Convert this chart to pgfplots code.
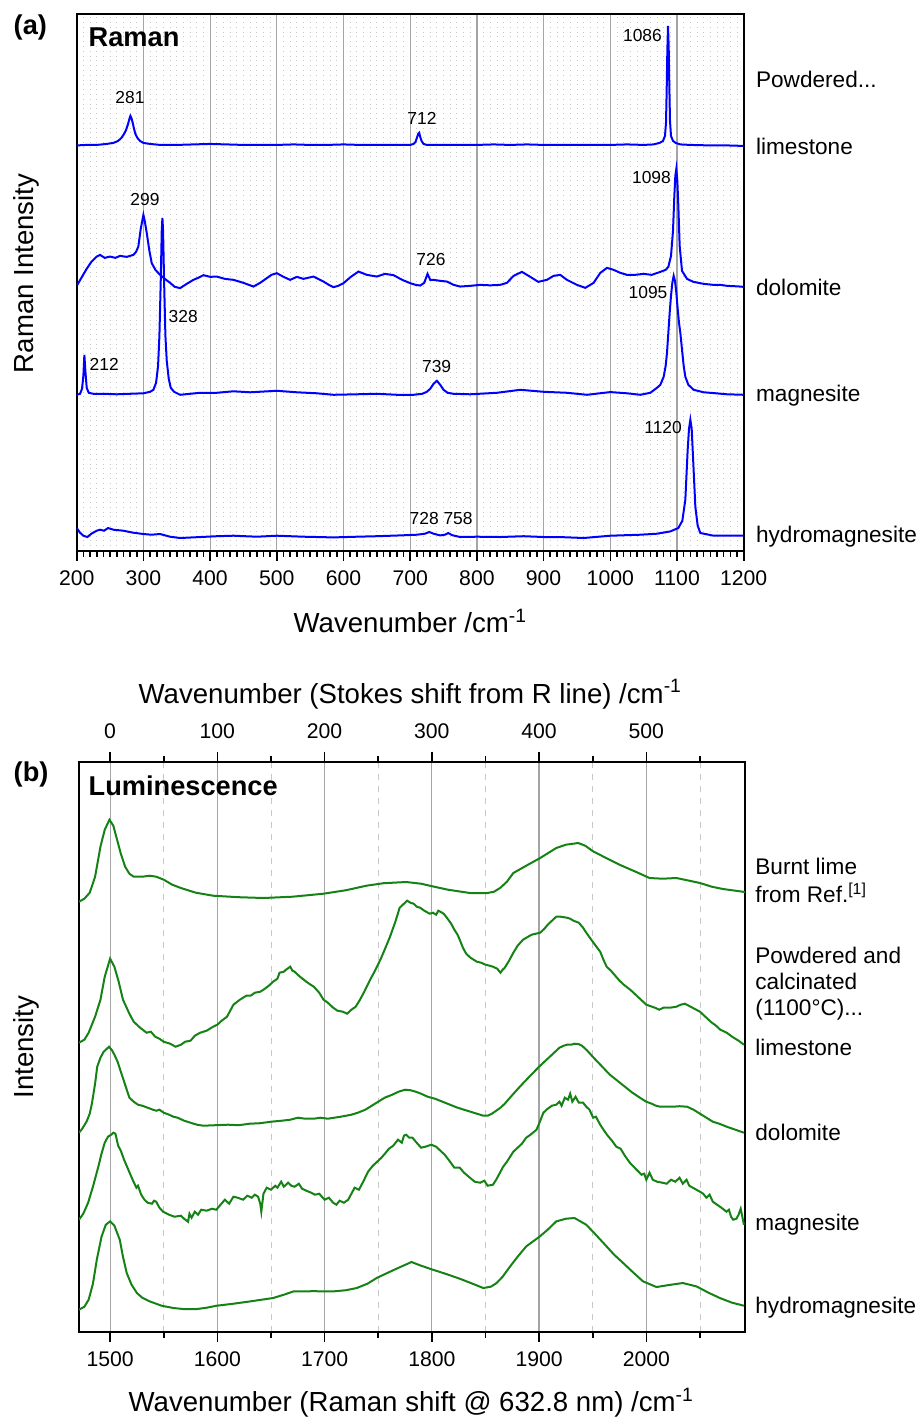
\documentclass[border=0pt]{standalone}
\usepackage{pgfplots}
\pgfplotsset{compat=1.18}
\usepackage{fontspec}
\setmainfont{Liberation Sans}
\definecolor{lgreen}{RGB}{20,130,20}
\definecolor{majgrid}{RGB}{165,165,165}
\definecolor{mingrid}{RGB}{200,200,200}
\newcommand{\tfont}{\fontsize{10.6}{12}\selectfont}
\newcommand{\lfont}{\fontsize{13.8}{16}\selectfont}
\newcommand{\sfont}{\fontsize{11.3}{13}\selectfont}
\newcommand{\pfont}{\fontsize{8.7}{10}\selectfont}
\newcommand{\bfont}{\fontsize{13.6}{16}\selectfont\bfseries}
\begin{document}
\begin{tikzpicture}
\useasboundingbox (0pt,0pt) rectangle (459.5pt,-709pt);
% ---------------- panel (a) ----------------
\begin{axis}[
  at={(38.35pt,-275.35pt)}, anchor=south west,
  scale only axis, width=333.5pt, height=268.35pt,
  xmin=200, xmax=1200, ymin=0, ymax=537,
  xtick={200,300,...,1200}, minor x tick num=9,
  ytick=\empty,
  xtick pos=left, tick align=outside,
  major tick length=5pt, minor tick length=3pt,
  tick style={black, line width=0.8pt},
  xmajorgrids, xminorgrids,
  major grid style={majgrid, line width=0.6pt},
  minor grid style={mingrid, dotted, line width=0.4pt},
  axis line style={line width=1pt},
  tick label style={font=\tfont},
  xticklabel style={yshift=-1.5pt},
  /pgf/number format/assume math mode=true,
  /pgf/number format/1000 sep={},
]
\addplot[blue, line width=1pt] coordinates {
(200,405.5) (215,406) (230,406) (245,407) (255,408) (262,410) (267,413) (271,417) (274,421) (277,427) (279,432) (280.5,435) (282,433) (284,428) (286,422) (288,417) (291,413) (295,410) (300,408) (310,407) (325,406) (350,406) (375,406.5) (400,407) (425,406.5) (450,406) (475,406) (500,406) (525,406.5) (550,406) (575,406) (600,406.5) (625,406) (650,406) (675,406) (700,406) (705,407) (708,409) (710,413) (712,417) (713.5,418) (715,414) (717,410) (720,407) (725,406) (750,406) (775,406) (800,406) (825,406.5) (850,406) (875,406.5) (900,406) (925,406) (950,406) (975,406) (1000,406) (1025,406.5) (1050,406) (1065,406.5) (1074,408) (1079,410) (1082,415) (1083.5,428) (1084.5,460) (1085.5,500) (1086.5,525) (1087.5,505) (1088.5,465) (1089.5,430) (1091,415) (1094,410) (1098,408) (1105,406.5) (1120,406) (1150,405.5) (1175,405.5) (1200,405)
};
\addplot[blue, line width=1pt] coordinates {
(201,266) (207,273) (214,281) (222,289) (230,294.3) (235,296) (242,293) (250,294.3) (258,293) (265,295) (275,294) (285,296) (289,299) (292.4,304.3) (296,322) (300,336) (302,330) (305,318) (309,300) (312.5,287.7) (318,281) (325,276) (332,272) (340,268) (347,264) (355,262.7) (365,267) (375,271) (382,273) (390,275.7) (400,274) (410,274.3) (422,272) (435,271) (450,268) (465,264.3) (475,268) (485,272.7) (492,276) (500,277.7) (510,274) (520,271) (530,274) (540,272) (555,274.3) (562,272) (570,269.3) (578,266) (585,263.7) (592,265) (600,267.7) (611,274) (622.4,279.3) (635,276) (650,274.3) (662,277) (675,275.7) (688,271) (700,267.7) (708,266) (715,265.3) (721,268) (726,277) (730,271) (735,271) (745,270) (755,269.3) (765,266) (775,264.3) (790,265) (805,266) (820,265.5) (835,266) (845,268) (855,275) (867.5,279) (880,274) (892,269) (905,271) (915,275) (925,276) (935,271) (950,266) (962.5,263) (975,268) (985,278) (995,283) (1005,281) (1015,278) (1025,276) (1037,276) (1050,277) (1062,276) (1075,279) (1083,281) (1087,284) (1091,295) (1094,320) (1096,355) (1097.5,375) (1099,382) (1100.5,370) (1102,345) (1104,305) (1107.5,280) (1115,272) (1124.5,269) (1140,267) (1154.5,266) (1165,266) (1175,265) (1190,264.5) (1200,264)
};
\addplot[blue, line width=1pt] coordinates {
(200,156) (205,157) (208,162) (210,175) (211.5,196) (213,180) (215,163) (218,158) (225,157) (240,157) (260,156.5) (280,157) (300,157.5) (310,159) (315,161) (319,168) (322,185) (324,215) (326,270) (327.5,320) (328.5,333) (329.5,320) (331,270) (333,215) (335,190) (338,172) (341,163) (346,159) (355,156) (370,157) (385,158) (410,158) (435,159.5) (460,158.5) (500,160) (530,158.5) (560,157.5) (585,156) (620,156.5) (650,157) (680,156) (705,156) (718,157) (725,159) (730,162) (735,167) (740,170) (745,166) (750,161) (756,158) (765,157) (790,156.5) (830,158) (865,161) (900,159) (935,158) (965,156) (1000,158.7) (1025,157.5) (1045,156) (1060,158) (1070,163) (1075,166) (1080,174) (1083,185) (1085,198) (1087,218) (1089,238) (1091,255) (1093,268) (1095,275) (1097,270) (1099,258) (1101,242) (1103,228) (1105,218) (1108,198) (1110,185) (1112.5,174) (1117,166) (1125,161) (1140,158.5) (1155,157.7) (1175,156.5) (1200,156)
};
\addplot[blue, line width=1pt] coordinates {
(200,22.7) (205,18) (210,15) (216,13.7) (222,17) (230,20) (235,21) (241,20) (247,22.7) (255,21) (270,20) (285,18) (300,16.7) (312,16) (325,16.7) (340,14) (355,12.7) (380,13.5) (410,14.5) (435,15) (470,14) (500,15) (540,14) (585,13.3) (620,14) (650,14.5) (685,15.3) (710,16) (722,17) (728.5,18.7) (735,17) (745,15.3) (752,16) (757,17.7) (763,15.5) (775,13.7) (800,14) (835,13.7) (870,14.5) (900,13.7) (930,13.5) (960,12.7) (1000,15) (1045,16) (1070,17) (1090,19.3) (1102,22.7) (1108,30) (1112.5,51) (1116,101) (1118,122) (1120,131) (1122,122) (1123.5,101) (1127.5,44) (1131,25) (1135,17.7) (1155,15) (1180,15) (1200,15)
};
\end{axis}
% ---------------- panel (b) ----------------
\begin{axis}[
  at={(39.5pt,-665.85pt)}, anchor=south west,
  scale only axis, width=333pt, height=285pt,
  xmin=1471, xmax=2092, ymin=0, ymax=570,
  xtick={1500,1600,...,2000}, minor xtick={1550,1650,...,2050},
  ytick=\empty,
  xtick pos=left, tick align=outside,
  major tick length=5pt, minor tick length=3pt,
  tick style={black, line width=0.8pt},
  xmajorgrids, xminorgrids,
  major grid style={majgrid, line width=0.6pt},
  minor grid style={mingrid, dashed, line width=0.4pt},
  axis line style={line width=1pt},
  tick label style={font=\tfont},
  xticklabel style={yshift=-1.5pt},
  /pgf/number format/assume math mode=true,
  /pgf/number format/1000 sep={},
]
\addplot[lgreen, line width=1pt] coordinates {
(1471,430) (1476,433) (1481,439) (1486,455) (1491,485) (1495,502) (1499.4,512) (1503,506) (1506,494) (1510,478) (1514,465) (1518,458) (1522,455) (1530,455) (1537,456) (1543,455) (1550,452) (1558,447) (1566,443.7) (1580,439) (1596,436) (1620,434.5) (1643,433.7) (1670,435) (1699,438) (1720,441.5) (1739,446) (1755,448.5) (1776,449.7) (1790,448) (1798,446) (1815,442) (1835.5,438.7) (1851,438.5) (1858,440) (1864,444) (1870,450) (1876,458.7) (1888,466) (1901,473.7) (1916,483.7) (1925,487) (1936.5,488.7) (1943,486) (1950.5,480.3) (1962,474) (1975,467) (1990,460) (2003,453.7) (2015,453) (2028,453.7) (2040,451) (2050,448.7) (2061,445) (2071.5,442.7) (2092,439.7)
};
\addplot[lgreen, line width=1pt] coordinates {
(1471,289) (1476,292) (1480,299) (1486,315) (1491,332) (1495,355) (1500,373) (1504,365) (1508,350) (1512,332) (1518,318) (1522,310) (1528,304) (1534,299) (1538,300) (1542,295) (1546,293) (1550,290) (1556,288) (1561,285) (1566,287) (1570,290) (1575,291) (1579,296) (1584,299) (1590,301) (1596,305) (1600,307) (1604,311) (1609,315) (1615,327) (1621,332) (1627,336) (1631,336) (1635,339) (1640,340) (1643,342) (1648,346) (1652,350) (1656,353) (1658,359) (1662,360) (1664,362) (1668,365) (1670,361) (1672,360) (1677,355) (1683,350) (1687,347) (1690,345) (1695,339) (1699,332) (1703,329) (1708,324) (1712,321) (1717,320) (1721,318) (1725,322) (1729,325) (1733,332) (1737,340) (1742,351) (1747,361) (1752,372) (1756,382) (1761,395) (1766,410) (1770,424) (1774,428) (1777,431) (1780,429) (1783,428) (1786,425) (1789,424) (1793,421) (1798,418) (1801,419) (1804,417) (1806,421) (1808,420) (1811,418) (1814,414) (1818,408) (1821,402) (1824,397) (1826,392) (1829,384) (1832,378) (1836,374) (1842,370) (1846,369) (1850,367) (1854,366) (1857,365) (1861,363) (1864,359) (1866,362) (1868,364) (1872,371) (1876,379) (1880,386) (1885,392) (1893,397) (1901,399) (1905,403) (1908,407) (1912,411) (1916,415) (1920,415) (1926,414) (1929,413) (1932,411) (1937,409) (1941,404) (1944,399) (1950,390) (1957,380) (1960,372) (1963,365) (1967,361) (1971,356) (1975,351) (1979,347) (1985,342) (1990,337) (1995,332) (2000,327) (2008,324) (2012,322) (2016,324) (2022,324) (2028,325) (2032,327) (2036,328) (2043,324) (2050,320) (2055,315) (2060,310) (2065,306) (2069,302) (2075,299) (2080,295) (2086,291) (2091,287)
};
\addplot[lgreen, line width=1pt] coordinates {
(1471,199) (1474,203) (1478,210) (1481,218) (1483,228) (1486,248) (1488,265) (1491,274) (1494,280) (1499,285) (1502,281) (1504,277) (1507,270) (1510,260) (1514,247) (1518,234) (1522,230) (1526,227) (1530,226) (1535,224) (1540,222) (1543,221) (1546,222) (1550,219) (1555,217) (1559,215) (1563,214) (1569,211) (1575,209) (1581,207) (1587,206) (1598,206.5) (1610,207) (1620,206.5) (1630,208) (1640,208.5) (1650,210) (1660,211) (1668,212) (1675,214) (1682,213) (1690,213) (1696,214) (1703,213) (1709,214) (1715,215) (1720,216) (1725,217) (1731,219) (1738,222) (1744,226) (1750,230) (1756,234) (1763,237) (1769,240) (1775,242) (1780,241.5) (1785,240) (1790,238) (1796,235) (1803,233) (1810,230) (1817,227) (1824,224) (1830,222) (1836,220) (1842,218) (1848,216) (1852,216) (1856,218) (1860,221) (1864,224) (1868,228) (1872,233) (1877,239) (1882,245) (1890,254) (1900,265) (1905,270) (1910,275) (1915,280) (1919,284) (1923,286) (1926,287) (1930,287) (1933,288) (1937,287.5) (1940,286) (1945,281) (1950,275) (1958,266) (1966,257) (1973,251) (1980,245) (1987,239) (1994,234) (2000,230) (2005,228) (2009,226) (2013,225) (2019,225) (2025,225) (2031,225.5) (2038,225) (2044,222) (2050,218) (2056,214) (2062,210) (2068,208) (2075,205) (2083,202) (2091,199)
};
\addplot[lgreen, line width=1pt] coordinates {
(1471,112) (1475,118) (1479.5,129) (1484,145) (1489,165) (1492,178) (1495,189) (1498,195) (1501,197) (1503,199) (1505,198) (1507.5,186) (1510,181) (1513,172) (1517,162) (1521,152) (1524.5,144) (1526,146) (1529,137) (1532,132) (1535,129) (1539,128) (1541,131) (1543,130) (1546,124) (1549.4,120) (1555,117) (1560,115) (1566,116) (1569,113) (1572.7,110) (1574,118) (1576,114) (1579,120) (1582,117) (1585,122) (1590,121) (1595,123) (1599,122) (1603,127) (1607,132) (1611,128) (1615,135) (1619,134) (1624,132) (1628,136) (1632,134) (1635,137) (1638,135) (1640,128) (1641,120) (1643,138) (1646,144) (1650,142) (1654,146) (1656,144) (1659.5,150) (1662,145) (1666,149) (1669,146) (1672,145) (1676,148) (1679,143) (1683,141) (1687.5,139) (1691,137) (1695,138) (1700,132) (1704,134) (1708,129) (1711,127) (1714,131) (1718,129) (1722,132) (1725,138) (1728,144) (1732,142) (1736,150) (1740.5,160) (1745,166) (1749,170) (1753,174) (1757,179) (1760,183) (1764,186) (1768.4,192) (1772,189) (1774,196) (1776,197) (1779,194) (1782,194) (1785,190) (1790,184) (1794,185) (1799.5,187) (1804,185) (1808,181) (1812,177) (1817,170) (1821,164) (1826,164) (1830,159) (1835.5,154) (1840,150) (1845,149) (1849,151) (1852,146) (1857,147) (1860,152) (1863,158) (1866.5,165) (1870,170) (1873,175) (1876,180) (1880,184) (1884,188) (1888,194) (1892,197) (1897.6,202) (1900,208) (1904,219) (1908,223) (1912,226) (1916,227) (1919,230) (1921,226) (1924,234) (1927,232) (1929,238) (1931,230) (1934,235) (1937,229) (1941,229) (1944,225) (1947,222) (1950.4,214) (1953,215) (1957,207) (1960,202) (1964,196) (1968,191) (1972,185) (1976,183) (1980,176) (1984.6,169) (1990,163) (1995.5,157) (1998,158) (2000,152) (2003,159) (2006,152) (2010,150) (2015,149) (2019,148) (2023,152) (2027,150) (2031,154) (2034,148) (2037.5,152) (2040,146) (2045,143) (2050,140) (2053,138) (2056,134) (2059,137) (2062,130) (2066,127) (2070,124) (2074.7,120) (2077,122) (2079,115) (2081,112) (2084,113) (2086,117) (2088,123) (2091,107)
};
\addplot[lgreen, line width=1pt] coordinates {
(1471,22) (1476,25) (1480,32) (1484,48) (1487.6,72) (1492,95) (1496,107) (1500,110.3) (1504,106) (1509,92) (1512,75) (1515.5,58.7) (1520,47) (1525,38.7) (1530,34) (1537,30.3) (1548,26) (1559,23.7) (1570,22.5) (1581,22.7) (1590,24) (1599.4,26) (1615,28) (1630.5,30.3) (1652,33.7) (1662,37) (1671,40.3) (1690,40.5) (1708,40.3) (1720,41.5) (1730,43.7) (1740,48) (1748.5,53.7) (1765,62) (1781,69.7) (1790,66) (1801,62) (1814,57.5) (1826,53) (1838,48) (1848,43.7) (1855,45) (1860.4,48.7) (1866,55) (1873,65.3) (1880,75) (1888,85.3) (1900.7,95.3) (1908,102) (1916,110.3) (1925,113) (1933,113.7) (1944,107) (1952,98) (1960,88.7) (1970,77) (1978.4,68.7) (1988,59) (1997,50.3) (2009.5,44.7) (2020,46.5) (2034,48.7) (2046.8,45.3) (2058,39) (2068.5,33.7) (2080,29) (2091,26)
};
\end{axis}
% top axis of (b): Stokes shift from R line
\begin{axis}[
  at={(39.5pt,-665.85pt)}, anchor=south west,
  scale only axis, width=333pt, height=285pt,
  xmin=-29, xmax=592, ymin=0, ymax=1,
  axis x line*=top, axis y line=none,
  xtick={0,100,...,500}, minor xtick={50,150,...,550},
  tick align=outside,
  major tick length=5pt, minor tick length=3pt,
  tick style={black, line width=0.8pt},
  axis line style={line width=1pt},
  tick label style={font=\tfont},
  xticklabel style={yshift=3pt},
  /pgf/number format/assume math mode=true,
  /pgf/number format/1000 sep={},
]
\end{axis}
% ---------------- annotations ----------------
\begin{scope}[x=0.5pt, y=-0.5pt, every node/.style={inner sep=0pt}]
\node[anchor=base west, font=\bfont] at (13.3,35) {(a)};
\node[anchor=base west, font=\bfont] at (88.3,46.7) {Raman};
\node[anchor=base west, font=\bfont] at (13.3,781.7) {(b)};
\node[anchor=base west, font=\bfont] at (88.3,795) {Luminescence};
% peak labels
\node[anchor=base west, font=\pfont] at (115,103.3) {281};
\node[anchor=base west, font=\pfont] at (407,125) {712};
\node[anchor=base west, font=\pfont] at (622.7,41.7) {1086};
\node[anchor=base west, font=\pfont] at (130,205) {299};
\node[anchor=base west, font=\pfont] at (416,265) {726};
\node[anchor=base west, font=\pfont] at (631.7,183.3) {1098};
\node[anchor=base west, font=\pfont] at (628.3,298.3) {1095};
\node[anchor=base west, font=\pfont] at (168.3,322.7) {328};
\node[anchor=base west, font=\pfont] at (89.3,370) {212};
\node[anchor=base west, font=\pfont] at (421.7,372.3) {739};
\node[anchor=base west, font=\pfont] at (409.3,524) {728 758};
\node[anchor=base west, font=\pfont] at (644,433.3) {1120};
% side labels (a)
\node[anchor=base west, font=\sfont] at (755.7,87.3) {Powdered...};
\node[anchor=base west, font=\sfont] at (755.7,155) {limestone};
\node[anchor=base west, font=\sfont] at (755.7,295) {dolomite};
\node[anchor=base west, font=\sfont] at (755.7,401) {magnesite};
\node[anchor=base west, font=\sfont] at (755.7,542.7) {hydromagnesite};
% side labels (b)
\node[anchor=base west, font=\sfont] at (755,874.3) {Burnt lime};
\node[anchor=base west, font=\sfont] at (755,902.7) {from Ref.\textsuperscript{[1]}};
\node[anchor=base west, font=\sfont] at (755,963.3) {Powdered and};
\node[anchor=base west, font=\sfont] at (755,989.3) {calcinated};
\node[anchor=base west, font=\sfont] at (755,1015.3) {(1100°C)...};
\node[anchor=base west, font=\sfont] at (755,1055) {limestone};
\node[anchor=base west, font=\sfont] at (755,1140) {dolomite};
\node[anchor=base west, font=\sfont] at (755,1230) {magnesite};
\node[anchor=base west, font=\sfont] at (755,1313.3) {hydromagnesite};
% axis labels
\node[anchor=base west, font=\lfont] at (293.3,632.7) {Wavenumber /cm\textsuperscript{-1}};
\node[anchor=base west, font=\lfont] at (138.3,703.3) {Wavenumber (Stokes shift from R line) /cm\textsuperscript{-1}};
\node[anchor=base west, font=\lfont] at (128.3,1411.7) {Wavenumber (Raman shift @ 632.8 nm) /cm\textsuperscript{-1}};
\node[anchor=base, rotate=90, font=\lfont] at (33.3,273.5) {Raman Intensity};
\node[anchor=base, rotate=90, font=\lfont] at (33.3,1047) {Intensity};
\end{scope}
\end{tikzpicture}
\end{document}
